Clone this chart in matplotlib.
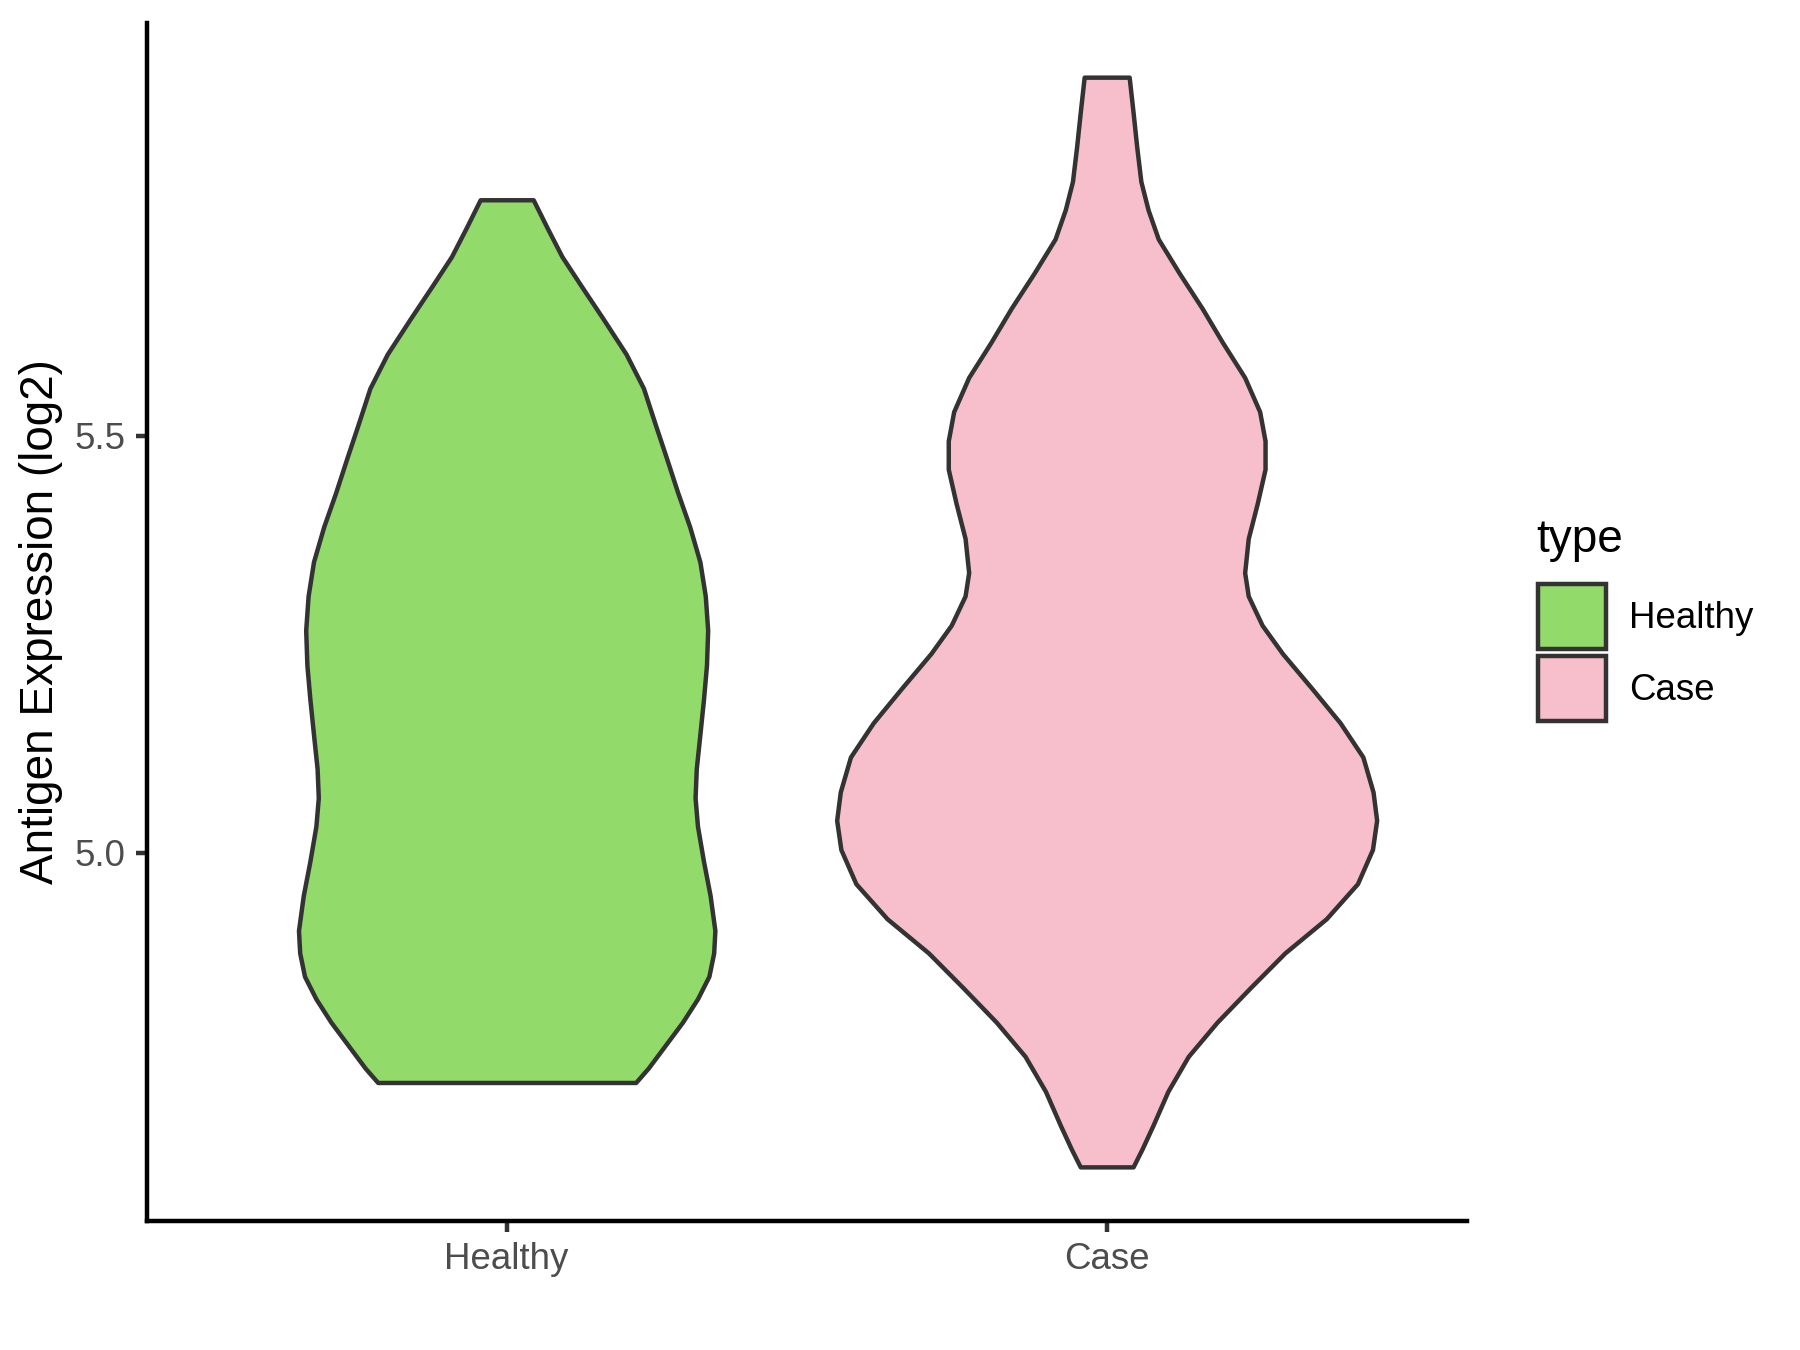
import matplotlib
matplotlib.use("Agg")
import matplotlib.pyplot as plt
from matplotlib.patches import Patch
import numpy as np

plt.rcParams['font.family'] = ['Liberation Sans', 'DejaVu Sans']

# categories and fill colours
categories = ["Healthy", "Case"]
colors = ["#92DB6B", "#F7BFCB"]

# violin outline: expression level and half-width (x units)
healthy_y = [5.783, 5.750, 5.715, 5.681, 5.640, 5.598, 5.557, 5.515, 5.474, 5.432,
             5.391, 5.349, 5.308, 5.267, 5.225, 5.184, 5.142, 5.101, 5.066, 5.032,
             4.990, 4.949, 4.907, 4.880, 4.852, 4.825, 4.797, 4.769, 4.742, 4.7247]
healthy_hw = [0.0442, 0.067, 0.092, 0.123, 0.161, 0.199, 0.228, 0.247, 0.266, 0.285,
              0.305, 0.322, 0.331, 0.335, 0.333, 0.328, 0.322, 0.316, 0.314, 0.318,
              0.328, 0.339, 0.347, 0.345, 0.337, 0.318, 0.293, 0.264, 0.236, 0.215]

case_y = [5.930, 5.888, 5.847, 5.805, 5.771, 5.736, 5.695, 5.653, 5.612, 5.570,
          5.529, 5.494, 5.460, 5.419, 5.377, 5.336, 5.308, 5.273, 5.239, 5.198,
          5.156, 5.115, 5.073, 5.039, 5.004, 4.963, 4.921, 4.880, 4.838, 4.797,
          4.756, 4.714, 4.673, 4.645, 4.6235]
case_hw = [0.0375, 0.044, 0.050, 0.057, 0.069, 0.086, 0.121, 0.159, 0.193, 0.230,
           0.255, 0.264, 0.264, 0.251, 0.236, 0.230, 0.236, 0.259, 0.293, 0.341,
           0.389, 0.427, 0.444, 0.450, 0.443, 0.418, 0.366, 0.297, 0.239, 0.184,
           0.136, 0.102, 0.077, 0.059, 0.044]

y_ticks = [5.0, 5.5]

fig = plt.figure(figsize=(6, 4.5), dpi=300)
ax = fig.add_axes([0.0815, 0.0958, 0.7333, 0.8872])

profiles = [(healthy_y, healthy_hw), (case_y, case_hw)]
for i, (yv, hw) in enumerate(profiles):
    pos = i + 1
    yv = np.array(yv)
    hw = np.array(hw)
    ax.fill_betweenx(yv, pos - hw, pos + hw, facecolor=colors[i],
                     edgecolor="#333333", linewidth=1.07, joinstyle="round")

ax.set_xlim(0.4, 2.6)
ax.set_ylim(4.559, 5.995)
ax.set_xticks([1, 2])
ax.set_xticklabels(categories)
ax.set_yticks(y_ticks)
ax.set_yticklabels([f"{t:.1f}" for t in y_ticks])

for side in ["top", "right"]:
    ax.spines[side].set_visible(False)
for side in ["left", "bottom"]:
    ax.spines[side].set_color("black")
    ax.spines[side].set_linewidth(1.07)

ax.tick_params(axis="both", length=2.75, width=1.07, color="#333333",
               labelcolor="#4D4D4D", labelsize=8.8, pad=2.4)
ax.set_ylabel("Antigen Expression (log2)", fontsize=11, color="black", labelpad=2.75)

# legend: title drawn separately so the gap to the keys matches ggplot
fig.text(0.8533, 0.600, "type", fontsize=11, ha="left", va="center")
handles = [Patch(facecolor=c, edgecolor="#333333", linewidth=1.07) for c in colors]
leg = fig.legend(handles, categories, loc="upper left",
                 bbox_to_anchor=(0.8546, 0.5674), frameon=False, fontsize=8.8,
                 handlelength=1.85, handleheight=2.35,
                 labelspacing=0.19, handletextpad=0.62, borderpad=0, borderaxespad=0)

fig.savefig("out.png", dpi=300, facecolor="white")
